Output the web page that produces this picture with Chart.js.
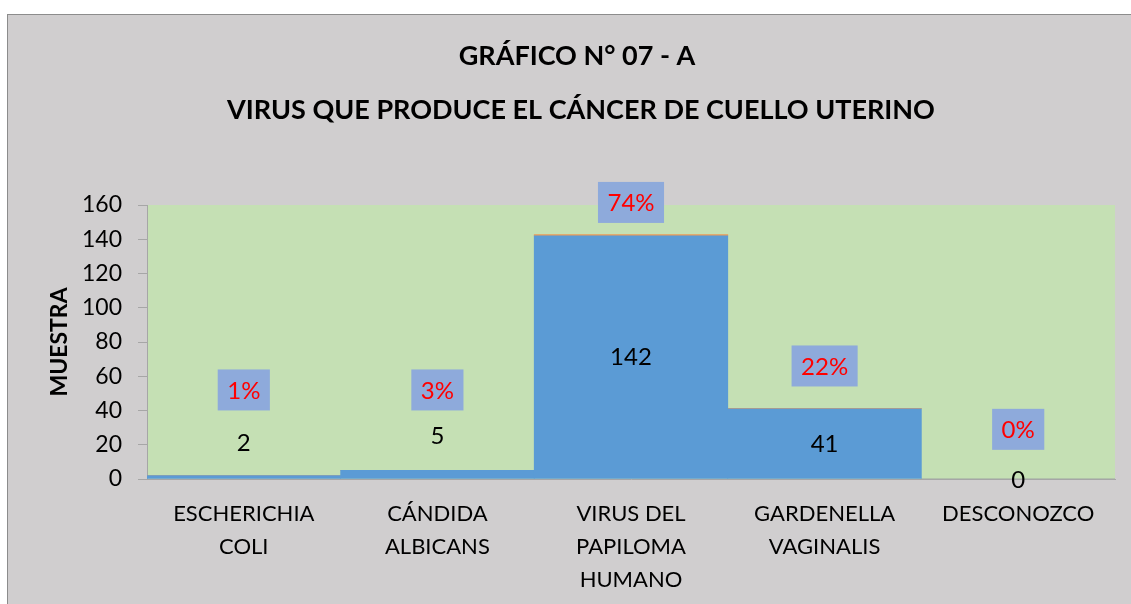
<!DOCTYPE html>
<html>
<head>
<meta charset="utf-8">
<script src="https://cdn.jsdelivr.net/npm/chart.js@4.4.0/dist/chart.umd.min.js"></script>
<style>
html,body{margin:0;padding:0;background:#fff;}
#wrap{width:1131px;height:604px;position:relative;}
</style>
</head>
<body>
<div id="wrap"><canvas id="c" width="1131" height="604"></canvas></div>
<script>
const titleLines = ["GRÁFICO N° 07 - A", "VIRUS QUE PRODUCE EL CÁNCER DE CUELLO UTERINO"];
const yAxisTitle = "MUESTRA";
const categories = [["ESCHERICHIA","COLI"],["CÁNDIDA","ALBICANS"],["VIRUS DEL","PAPILOMA","HUMANO"],["GARDENELLA","VAGINALIS"],["DESCONOZCO"]];
const muestra = [2, 5, 142, 41, 0];
const porcentaje = [0.01, 0.03, 0.74, 0.22, 0.00];
const porcentajeLabels = ["1%", "3%", "74%", "22%", "0%"];

const FONT = "Lato, 'Open Sans', sans-serif";

// label placement (data units on y axis), layout only
const valueLabelY = [21, 25, null, null, -1];
const pctLabelY = [52, 52, 161.5, 66, 29];

const deco = {
  id: 'deco',
  beforeDraw(chart) {
    const ctx = chart.ctx;
    ctx.save();
    ctx.fillStyle = '#ffffff';
    ctx.fillRect(0, 0, chart.width, chart.height);
    ctx.fillStyle = '#d0cecf';
    ctx.fillRect(7, 14, chart.width - 7, chart.height - 14);
    ctx.strokeStyle = '#8c8c8c';
    ctx.lineWidth = 1;
    ctx.strokeRect(7.5, 14.5, chart.width, chart.height);
    const a = chart.chartArea;
    ctx.fillStyle = '#c5e0b4';
    ctx.fillRect(a.left, a.top, a.right - a.left, a.bottom - a.top);
    // titles
    ctx.fillStyle = '#000';
    ctx.textAlign = 'center';
    ctx.textBaseline = 'middle';
    ctx.font = "bold 27px " + FONT;
    ctx.fillText(titleLines[0], 577, 56);
    ctx.fillText(titleLines[1], 581, 110);
    // y title
    ctx.translate(60, 342);
    ctx.rotate(-Math.PI / 2);
    ctx.font = "bold 23px " + FONT;
    ctx.fillText(yAxisTitle, 0, 0);
    ctx.restore();
  },
  afterDatasetsDraw(chart) {
    const ctx = chart.ctx;
    const x = chart.scales.x, y = chart.scales.y;
    ctx.save();
    ctx.textAlign = 'center';
    ctx.textBaseline = 'middle';
    muestra.forEach((v, i) => {
      const cx = x.getPixelForValue(i);
      const ly = valueLabelY[i] === null ? (y.getPixelForValue(v) + y.getPixelForValue(0)) / 2 : y.getPixelForValue(valueLabelY[i]);
      ctx.fillStyle = '#000';
      ctx.font = "24px " + FONT;
      ctx.fillText(String(v), cx, ly);
      // pct box
      ctx.font = "24px " + FONT;
      const t = porcentajeLabels[i];
      const w = ctx.measureText(t).width + 19;
      const h = 41;
      const py = y.getPixelForValue(pctLabelY[i]);
      ctx.fillStyle = '#8eaadb';
      ctx.fillRect(cx - w / 2, py - h / 2, w, h);
      ctx.fillStyle = '#ff0000';
      ctx.fillText(t, cx, py + 1);
    });
    ctx.restore();
  }
};

new Chart(document.getElementById('c'), {
  type: 'bar',
  data: {
    labels: categories,
    datasets: [
      { label: 'MUESTRA', data: muestra, backgroundColor: '#5b9bd5', borderWidth: 0, categoryPercentage: 1, barPercentage: 1, stack: 's' },
      { label: '%', data: porcentaje, backgroundColor: '#ed9a55', borderWidth: 0, categoryPercentage: 1, barPercentage: 1, stack: 's' }
    ]
  },
  options: {
    responsive: false,
    animation: false,
    layout: { padding: { left: 7, right: 16, top: 205, bottom: 0 } },
    plugins: { legend: { display: false }, tooltip: { enabled: false }, title: { display: false } },
    scales: {
      x: {
        stacked: true,
        grid: { display: false, drawTicks: false },
        border: { display: true, color: '#a6a6a6', width: 1 },
        ticks: { color: '#000', font: { size: 22, family: FONT, lineHeight: 1.5 }, padding: 18, maxRotation: 0, autoSkip: false },
        afterFit(s) { s.height = 125; }
      },
      y: {
        stacked: true,
        min: 0, max: 160,
        grid: { display: true, drawOnChartArea: false, drawTicks: true, tickLength: 9, color: '#a6a6a6' },
        border: { display: true, color: '#a6a6a6', width: 1 },
        ticks: { stepSize: 20, color: '#000', font: { size: 23, family: FONT }, padding: 16 },
        afterFit(s) { s.width = 140; }
      }
    }
  },
  plugins: [deco]
});
</script>
</body>
</html>
